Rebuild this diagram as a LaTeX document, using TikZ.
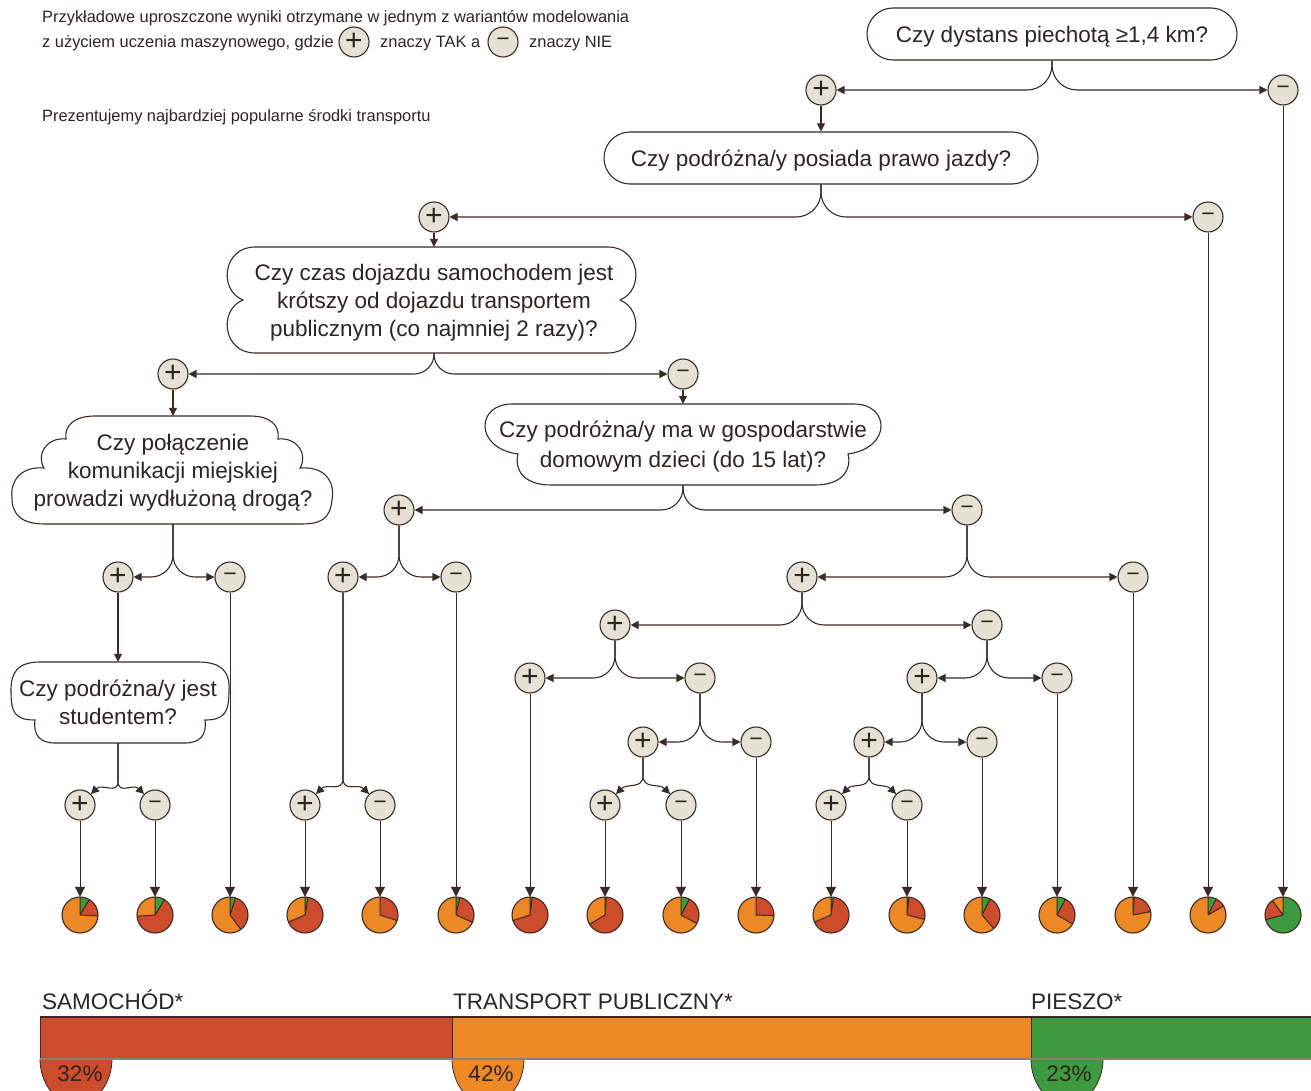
\documentclass[tikz,border=0pt]{standalone}
\usepackage{fontspec}
\setmainfont{Liberation Sans}
\usetikzlibrary{arrows.meta}
\definecolor{dark}{HTML}{3A2A23}
\definecolor{txt}{HTML}{2E2420}
\definecolor{beige}{HTML}{E6E1D5}
\definecolor{cre}{HTML}{CD4C2B}
\definecolor{cor}{HTML}{EC8925}
\definecolor{cgr}{HTML}{3E9A3E}
\definecolor{barline}{HTML}{8A807A}
\newcommand\qfont{\fontsize{22.5}{28}\selectfont}
\newcommand\hfont{\fontsize{16.4}{18}\selectfont}
\tikzset{
  pm/.style={circle, draw=dark, fill=beige, line width=1.1pt, minimum size=30pt, inner sep=0pt, text=txt, font=\fontsize{30}{30}\selectfont},
  mn/.style={pm, font=\fontsize{23}{23}\selectfont},
  conn/.style={draw=dark, line width=1.1pt, -{Triangle[length=8pt,width=8pt]}},
  leaf/.style={draw=dark, line width=1pt, -{Triangle[length=10pt,width=10pt]}},
  qbox/.style={draw=dark, line width=1.1pt, rounded corners=26pt, minimum height=52pt, text=txt, font=\qfont, inner sep=0pt, text depth=0pt},
  qcloud/.style={inner sep=0pt, text=txt, font=\qfont, align=center, text depth=0pt},
  cloudline/.style={draw=dark, line width=1.1pt, fill=white},
  pienode/.style={circle, minimum size=36pt, inner sep=0pt},
  htext/.style={anchor=base west, inner sep=0pt, text=txt, font=\hfont},
  btext/.style={anchor=base west, inner sep=0pt, text=txt, font=\fontsize{22.5}{22.5}\selectfont},
}
\newcommand\mypie[4]{%
  \node[pienode] (#1) at (#2,915) {};
  \fill[cor] (#1.center) circle[radius=18];
  \fill[cgr] (#1.center) -- ++(-90:18) arc[start angle=-90, end angle={#3-90}, radius=18] -- cycle;
  \fill[cre] (#1.center) -- ++({#3-90}:18) arc[start angle={#3-90}, end angle={#4-90}, radius=18] -- cycle;
  \draw[dark, line width=1pt, line join=round] (#1.center) -- ++(-90:18) (#1.center) -- ++({#3-90}:18) (#1.center) -- ++({#4-90}:18);
  \draw[dark, line width=1.1pt] (#1.center) circle[radius=18];
}
\begin{document}
\begin{tikzpicture}[x=1pt,y=-1pt]
\useasboundingbox (0,0) rectangle (1311,1091);
\fill[white] (0,0) rectangle (1311,1091);

% header
\node[htext] (h1) at (42,23) {Przykładowe uproszczone wyniki otrzymane w jednym z wariantów modelowania};
\node[htext] (h2) at (42,48) {z użyciem uczenia maszynowego, gdzie};
\node[pm] (lp) at (354,42) {+};
\node[htext] (h3) at (380,48) {znaczy TAK a};
\node[mn] (lm) at (503,42) {−};
\node[htext] (h4) at (529,48) {znaczy NIE};
\node[htext] (h5) at (42,122) {Prezentujemy najbardziej popularne środki transportu};

% cloud outlines
\path[cloudline] (255,247) -- (608,247) .. controls (640,247) and (645,290) .. (620,300) .. controls (645,310) and (640,353) .. (608,353) -- (255,353) .. controls (223,353) and (218,310) .. (243,300) .. controls (218,290) and (223,247) .. (255,247) -- cycle;
\path[cloudline] (95,416) -- (250,416) .. controls (270,416) and (280,425) .. (278,439) .. controls (298,437) and (308,455) .. (300,468) .. controls (328,466) and (335,485) .. (332,500) .. controls (330,520) and (320,524) .. (300,524) -- (45,524) .. controls (22,524) and (12,515) .. (12,498) .. controls (10,482) and (20,466) .. (44,468) .. controls (36,455) and (46,437) .. (66,439) .. controls (64,425) and (75,416) .. (95,416) -- cycle;
\path[cloudline] (512,404) -- (854,404) .. controls (890,404) and (892,448) .. (848,454) .. controls (852,470) and (842,485) .. (815,485) -- (551,485) .. controls (524,485) and (514,470) .. (518,454) .. controls (474,448) and (476,404) .. (512,404) -- cycle;
\path[cloudline] (40,662) -- (198,662) .. controls (222,662) and (230,672) .. (229,690) .. controls (229,712) and (225,720) .. (205,720) .. controls (207,735) and (200,743) .. (185,743) -- (55,743) .. controls (40,743) and (33,735) .. (35,720) .. controls (14,720) and (11,712) .. (11,690) .. controls (11,672) and (18,662) .. (40,662) -- cycle;

% questions
\node[qbox, minimum width=370pt] (q1) at (1052,34) {Czy dystans piechotą ≥1,4 km?};
\node[qbox, minimum width=434pt] (q2) at (821,158) {Czy podróżna/y posiada prawo jazdy?};
\node[qcloud, minimum width=413pt, minimum height=106pt] (q3) at (434,300) {Czy czas dojazdu samochodem jest\\krótszy od dojazdu transportem\\publicznym (co najmniej 2 razy)?};
\node[qcloud, minimum width=319pt, minimum height=108pt] (q4) at (173,470) {Czy połączenie\\komunikacji miejskiej\\prowadzi wydłużoną drogą?};
\node[qcloud, minimum width=404pt, minimum height=81pt, font=\fontsize{22.5}{30}\selectfont] (q5) at (683,444.5) {Czy podróżna/y ma w gospodarstwie\\domowym dzieci (do 15 lat)?};
\node[qcloud, minimum width=216pt, minimum height=81pt] (q6) at (118,702.5) {Czy podróżna/y jest\\studentem?};

% plus / minus nodes
\node[pm] (pA) at (821,90) {+};   \node[mn] (mA) at (1283,90) {−};
\node[pm] (pB) at (434,217) {+};  \node[mn] (mB) at (1208,217) {−};
\node[pm] (pC) at (173,374) {+};  \node[mn] (mC) at (683,374) {−};
\node[pm] (pD) at (118,577) {+};  \node[mn] (mD) at (230,577) {−};
\node[pm] (pE) at (399,510) {+};  \node[mn] (mE) at (967,510) {−};
\node[pm] (pF) at (80,805) {+};   \node[mn] (mF) at (155,805) {−};
\node[pm] (pG) at (343,577) {+};  \node[mn] (mG) at (456,577) {−};
\node[pm] (pH) at (305,805) {+};  \node[mn] (mH) at (380,805) {−};
\node[pm] (pI) at (802,577) {+};  \node[mn] (mI) at (1133,577) {−};
\node[pm] (pJ) at (615,625) {+};  \node[mn] (mJ) at (987,625) {−};
\node[pm] (pK) at (530,678) {+};  \node[mn] (mK) at (700,678) {−};
\node[pm] (pL) at (643,742) {+};  \node[mn] (mL) at (756,742) {−};
\node[pm] (pM) at (605,805) {+};  \node[mn] (mM) at (681,805) {−};
\node[pm] (pN) at (922,678) {+};  \node[mn] (mN) at (1057,678) {−};
\node[pm] (pO) at (869,742) {+};  \node[mn] (mO) at (982,742) {−};
\node[pm] (pP) at (831,805) {+};  \node[mn] (mP) at (907,805) {−};

% wide branches
\draw[conn, rounded corners=25pt] (q1.south) |- (pA.east);
\draw[conn, rounded corners=25pt] (q1.south) |- (mA.west);
\draw[conn] (pA.south) -- (q2.north);
\draw[conn, rounded corners=25pt] (q2.south) |- (pB.east);
\draw[conn, rounded corners=25pt] (q2.south) |- (mB.west);
\draw[conn] (pB.south) -- (q3.north);
\draw[conn, rounded corners=20pt] (q3.south) |- (pC.east);
\draw[conn, rounded corners=20pt] (q3.south) |- (mC.west);
\draw[conn] (pC.south) -- (q4.north);
\draw[conn] (mC.south) -- (q5.north);
\draw[conn, rounded corners=22pt] (q4.south) |- (pD.east);
\draw[conn, rounded corners=22pt] (q4.south) |- (mD.west);
\draw[conn, rounded corners=22pt] (q5.south) |- (pE.east);
\draw[conn, rounded corners=22pt] (q5.south) |- (mE.west);
\draw[conn] (pD.south) -- (q6.north);
\draw[conn, rounded corners=22pt] (pE.south) |- (pG.east);
\draw[conn, rounded corners=22pt] (pE.south) |- (mG.west);
\draw[conn, rounded corners=22pt] (mE.south) |- (pI.east);
\draw[conn, rounded corners=22pt] (mE.south) |- (mI.west);
\draw[conn, rounded corners=22pt] (pI.south) |- (pJ.east);
\draw[conn, rounded corners=22pt] (pI.south) |- (mJ.west);
\draw[conn, rounded corners=22pt] (pJ.south) |- (pK.east);
\draw[conn, rounded corners=22pt] (pJ.south) |- (mK.west);
\draw[conn, rounded corners=22pt] (mK.south) |- (pL.east);
\draw[conn, rounded corners=22pt] (mK.south) |- (mL.west);
\draw[conn, rounded corners=22pt] (mJ.south) |- (pN.east);
\draw[conn, rounded corners=22pt] (mJ.south) |- (mN.west);
\draw[conn, rounded corners=22pt] (pN.south) |- (pO.east);
\draw[conn, rounded corners=22pt] (pN.south) |- (mO.west);

% close branches
\draw[conn] (q6.south) -- ++(0,38) .. controls +(0,14) and +(11,-11) .. (pF.45);
\draw[conn] (q6.south) -- ++(0,38) .. controls +(0,14) and +(-11,-11) .. (mF.135);
\draw[conn] (pG.south) -- ++(0,186) .. controls +(0,14) and +(11,-11) .. (pH.45);
\draw[conn] (pG.south) -- ++(0,186) .. controls +(0,14) and +(-11,-11) .. (mH.135);
\draw[conn] (pL.south) -- ++(0,18) .. controls +(0,14) and +(11,-11) .. (pM.45);
\draw[conn] (pL.south) -- ++(0,18) .. controls +(0,14) and +(-11,-11) .. (mM.135);
\draw[conn] (pO.south) -- ++(0,18) .. controls +(0,14) and +(11,-11) .. (pP.45);
\draw[conn] (pO.south) -- ++(0,18) .. controls +(0,14) and +(-11,-11) .. (mP.135);

% pies
\mypie{pie1}{80}{31}{93}
\mypie{pie2}{155}{32}{266}
\mypie{pie3}{230}{18}{143}
\mypie{pie4}{305}{10}{247}
\mypie{pie5}{380}{0}{108}
\mypie{pie6}{456}{12}{114}
\mypie{pie7}{530}{7}{252}
\mypie{pie8}{605}{4}{239}
\mypie{pie9}{681}{28}{118}
\mypie{pie10}{756}{0}{92}
\mypie{pie11}{831}{8}{247}
\mypie{pie12}{907}{6}{104}
\mypie{pie13}{982}{27}{139}
\mypie{pie14}{1057}{28}{120}
\mypie{pie15}{1133}{4}{79}
\mypie{pie16}{1208}{27}{60}
\mypie{pie17}{1283}{255}{324}

\draw[leaf] (pF.south) -- (pie1.north);
\draw[leaf] (mF.south) -- (pie2.north);
\draw[leaf] (mD.south) -- (pie3.north);
\draw[leaf] (pH.south) -- (pie4.north);
\draw[leaf] (mH.south) -- (pie5.north);
\draw[leaf] (mG.south) -- (pie6.north);
\draw[leaf] (pK.south) -- (pie7.north);
\draw[leaf] (pM.south) -- (pie8.north);
\draw[leaf] (mM.south) -- (pie9.north);
\draw[leaf] (mL.south) -- (pie10.north);
\draw[leaf] (pP.south) -- (pie11.north);
\draw[leaf] (mP.south) -- (pie12.north);
\draw[leaf] (mO.south) -- (pie13.north);
\draw[leaf] (mN.south) -- (pie14.north);
\draw[leaf] (mI.south) -- (pie15.north);
\draw[leaf] (mB.south) -- (pie16.north);
\draw[leaf] (mA.south) -- (pie17.north);

% bottom bar
\node[btext] (lsam) at (42,1009) {SAMOCHÓD*};
\node[btext] (ltra) at (453,1009) {TRANSPORT PUBLICZNY*};
\node[btext] (lpie) at (1031,1009) {PIESZO*};
\fill[cre] (40,1017) rectangle (452,1059);
\fill[cor] (452,1017) rectangle (1031,1059);
\fill[cgr] (1031,1017) rectangle (1311,1059);
\filldraw[fill=cre, draw=dark, line width=0.8pt] (40,1059) arc[start angle=180, end angle=0, x radius=36, y radius=45];
\filldraw[fill=cor, draw=dark, line width=0.8pt] (452,1059) arc[start angle=180, end angle=0, x radius=36, y radius=45];
\filldraw[fill=cgr, draw=dark, line width=0.8pt] (1031,1059) arc[start angle=180, end angle=0, x radius=36, y radius=45];
\draw[dark, line width=0.6pt] (40,1017) -- (40,1059) (452,1017) -- (452,1059) (1031,1017) -- (1031,1059);
\draw[dark, line width=1.5pt] (40,1017) -- (1311,1017);
\draw[barline, line width=1.2pt] (40,1059) -- (1311,1059);
\node[text=txt, font=\fontsize{22.5}{22.5}\selectfont] (v1) at (80,1074) {32\%};
\node[text=txt, font=\fontsize{22.5}{22.5}\selectfont] (v2) at (491,1074) {42\%};
\node[text=txt, font=\fontsize{22.5}{22.5}\selectfont] (v3) at (1069,1074) {23\%};
\end{tikzpicture}
\end{document}
